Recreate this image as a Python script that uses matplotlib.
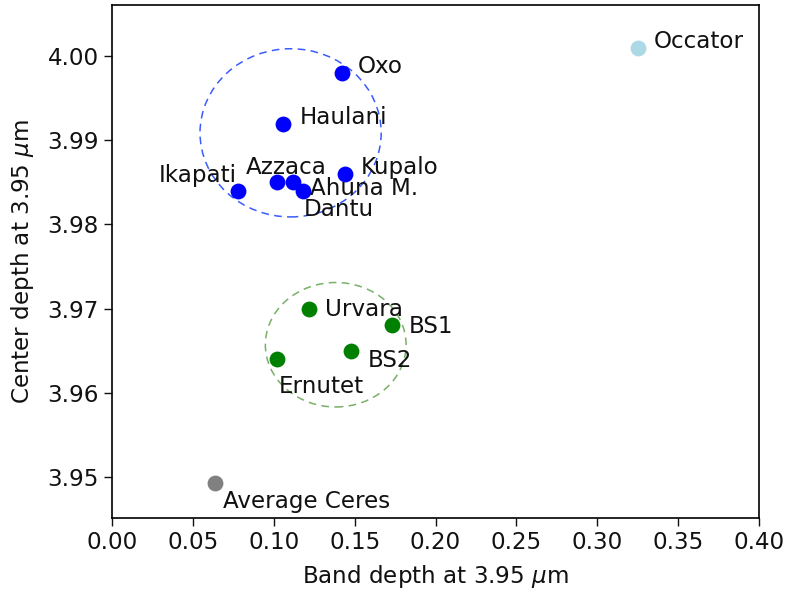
import matplotlib
matplotlib.use('Agg')
import matplotlib.pyplot as plt
from matplotlib.patches import Ellipse

# bright, crater-like sites (blue group)
blue_names = ['Oxo', 'Haulani', 'Kupalo', 'Azzaca', 'Ahuna M.', 'Dantu', 'Ikapati']
blue_band = [0.142, 0.106, 0.144, 0.102, 0.112, 0.118, 0.078]
blue_center = [3.998, 3.992, 3.986, 3.985, 3.985, 3.984, 3.984]

# green group
green_names = ['Urvara', 'BS1', 'BS2', 'Ernutet']
green_band = [0.122, 0.173, 0.148, 0.102]
green_center = [3.970, 3.968, 3.965, 3.964]

occator_band = [0.325]
occator_center = [4.001]

ceres_band = [0.0635]
ceres_center = [3.9493]

# label offsets (data units), default is to the right of the point
label_offsets = {
    'Ikapati': (-0.049, 0.001),
    'Azzaca': (-0.019, 0.001),
    'Ahuna M.': (0.0105, -0.0015),
    'Dantu': (0.0005, -0.003),
    'Urvara': (0.0095, -0.0009),
    'BS1': (0.0105, -0.0009),
    'BS2': (0.0098, -0.002),
    'Ernutet': (0.0012, -0.004),
    'Average Ceres': (0.005, -0.003),
}

fs = 16.6

fig, ax = plt.subplots(figsize=(7.85, 5.96), dpi=100)
fig.subplots_adjust(left=0.1427, right=0.9669, top=0.9916, bottom=0.1309)

ax.scatter(blue_band, blue_center, s=130, color='blue', linewidths=0, zorder=3)
ax.scatter(green_band, green_center, s=130, color='green', linewidths=0, zorder=3)
ax.scatter(occator_band, occator_center, s=130, color='lightblue', linewidths=0, zorder=3)
ax.scatter(ceres_band, ceres_center, s=130, color='gray', linewidths=0, zorder=3)

def label(name, x, y):
    dx, dy = label_offsets.get(name, (0.0098, 0.0))
    ax.text(x + dx, y + dy, name, fontsize=fs, color='#111111')

for n, x, y in zip(blue_names, blue_band, blue_center):
    label(n, x, y)
for n, x, y in zip(green_names, green_band, green_center):
    label(n, x, y)
label('Occator', occator_band[0], occator_center[0])
label('Average Ceres', ceres_band[0], ceres_center[0])

# group outlines
ax.add_patch(Ellipse((0.1104, 3.9909), 0.112, 0.0200, fill=False,
                     edgecolor='#3a5cff', linestyle=(0, (5, 3.5)), linewidth=1.1))
ax.add_patch(Ellipse((0.1383, 3.9657), 0.087, 0.0148, fill=False,
                     edgecolor='#78b068', linestyle=(0, (5, 3.5)), linewidth=1.1))

ax.set_xlim(0, 0.4)
ax.set_ylim(3.9451, 4.0061)
ax.set_xticks([0.0, 0.05, 0.1, 0.15, 0.2, 0.25, 0.3, 0.35, 0.4])
ax.set_xticklabels(['0.00', '0.05', '0.10', '0.15', '0.20', '0.25', '0.30', '0.35', '0.40'])
ax.set_yticks([3.95, 3.96, 3.97, 3.98, 3.99, 4.00])
ax.set_yticklabels(['3.95', '3.96', '3.97', '3.98', '3.99', '4.00'])
ax.tick_params(labelsize=fs, length=6, width=1.0, colors='#111111')
for s in ax.spines.values():
    s.set_linewidth(1.2)

ax.set_xlabel('Band depth at 3.95 $\\mu$m', fontsize=fs, color='#111111', labelpad=6)
ax.set_ylabel('Center depth at 3.95 $\\mu$m', fontsize=fs, color='#111111', labelpad=8)

plt.savefig('out.png', dpi=100)
